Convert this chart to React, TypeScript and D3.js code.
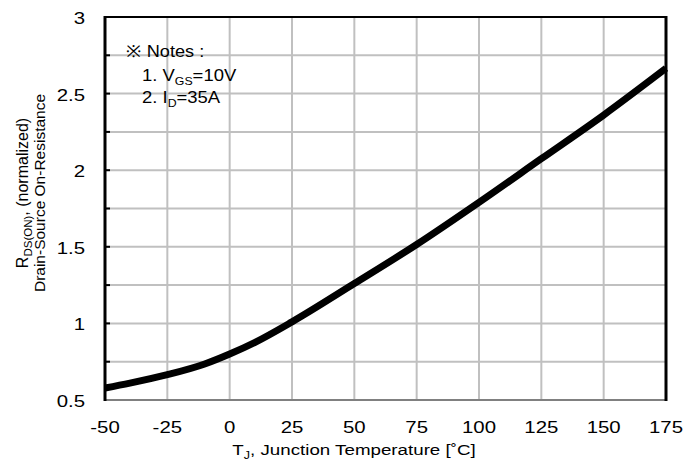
import React from "react";
import * as d3 from "d3";

// Normalized on-resistance vs junction temperature
const tempC = [-50, -40, -25, -10, 0, 10, 25, 50, 75, 100, 125, 150, 175];
const rdsNorm = [0.578, 0.61, 0.665, 0.735, 0.8, 0.875, 1.01, 1.26, 1.515, 1.79, 2.075, 2.36, 2.665];

const xTicks = [-50, -25, 0, 25, 50, 75, 100, 125, 150, 175];
const yTicks = [0.5, 1, 1.5, 2, 2.5, 3];
const yGrid = [0.75, 1, 1.25, 1.5, 1.75, 2, 2.25, 2.5, 2.75];

const W = 686;
const H = 461;
const m = { left: 105, right: 20, top: 17, bottom: 61 };

// Text drawn with a wide horizontal stretch, anchored at (x, y)
function WideText(props: {
  x: number;
  y: number;
  sx: number;
  size: number;
  anchor?: "start" | "middle" | "end";
  children: React.ReactNode;
}) {
  const { x, y, sx, size, anchor = "start", children } = props;
  return (
    <g transform={`translate(${x},${y}) scale(${sx},1)`}>
      <text x={0} y={0} textAnchor={anchor} fontSize={size} fill="#000">
        {children}
      </text>
    </g>
  );
}

export default function App() {
  const x = d3.scaleLinear().domain([-50, 175]).range([m.left, W - m.right]);
  const y = d3.scaleLinear().domain([0.5, 3]).range([H - m.bottom, m.top]);
  const pts = tempC.map((t, i) => [t, rdsNorm[i]] as [number, number]);
  const line = d3
    .line<[number, number]>()
    .x((d) => x(d[0]))
    .y((d) => y(d[1]))
    .curve(d3.curveMonotoneX);
  const font = "'Liberation Sans', Arial, sans-serif";
  const x0 = x(-50), x1 = x(175), y0 = y(0.5), y1 = y(3);

  return (
    <svg width={W} height={H} style={{ position: "absolute", left: 0, top: 0, background: "#fff" }} fontFamily={font}>
      <rect x={0} y={0} width={W} height={H} fill="#fff" />
      {/* grid */}
      {xTicks.slice(1, -1).map((t) => (
        <line key={"gx" + t} x1={x(t)} x2={x(t)} y1={y1} y2={y0} stroke="#c0c0c0" strokeWidth={2} />
      ))}
      {yGrid.map((v) => (
        <line key={"gy" + v} x1={x0} x2={x1} y1={y(v)} y2={y(v)} stroke="#c0c0c0" strokeWidth={2} />
      ))}
      {/* left-axis inner ticks */}
      {yGrid.map((v) => (
        <line key={"ty" + v} x1={x0} x2={x0 + 5} y1={y(v)} y2={y(v)} stroke="#000" strokeWidth={2} />
      ))}
      {/* frame */}
      <line x1={x0} x2={x1} y1={y0} y2={y0} stroke="#808080" strokeWidth={2} />
      <line x1={x0} x2={x1} y1={y1} y2={y1} stroke="#000" strokeWidth={2} />
      <line x1={x0} x2={x0} y1={y1 - 1} y2={y0 + 1} stroke="#000" strokeWidth={3} />
      <line x1={x1} x2={x1} y1={y1 - 1} y2={y0 + 1} stroke="#000" strokeWidth={3} />
      {/* curve */}
      <path d={line(pts) ?? ""} fill="none" stroke="#000" strokeWidth={7} strokeLinejoin="round" />
      {/* tick labels */}
      {xTicks.map((t) => (
        <WideText key={"lx" + t} x={x(t)} y={y0 + 33} sx={1.2} size={17} anchor="middle">
          {t}
        </WideText>
      ))}
      {yTicks.map((v) => (
        <WideText key={"ly" + v} x={85} y={y(v) + 7} sx={1.2} size={17} anchor="end">
          {v}
        </WideText>
      ))}
      {/* axis titles */}
      <WideText x={354} y={455} sx={1.25} size={15} anchor="middle">
        T<tspan fontSize={10} dy={4}>J</tspan>
        <tspan dy={-4}>, Junction Temperature [˚C]</tspan>
      </WideText>
      <g transform={`translate(28, 193) rotate(-90)`}>
        <text x={0} y={0} textAnchor="middle" fontSize={16} fill="#000">
          R<tspan fontSize={11.5} dy={3.5}>DS(ON)</tspan>
          <tspan dy={-3.5}>, (normalized)</tspan>
        </text>
        <text x={0} y={16.5} textAnchor="middle" fontSize={15.5} fill="#000">
          Drain-Source On-Resistance
        </text>
      </g>
      {/* notes */}
      <WideText x={126} y={57} sx={1.1} size={16.5}>※ Notes :</WideText>
      <WideText x={142} y={81} sx={1.12} size={16.5}>
        1. V<tspan fontSize={11} dy={4}>GS</tspan>
        <tspan dy={-4}>=10V</tspan>
      </WideText>
      <WideText x={142} y={103} sx={1.12} size={16.5}>
        2. I<tspan fontSize={11} dy={4}>D</tspan>
        <tspan dy={-4}>=35A</tspan>
      </WideText>
    </svg>
  );
}
